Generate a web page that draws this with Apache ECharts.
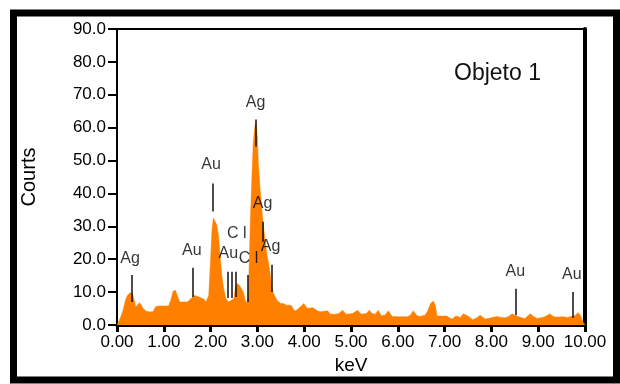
<!DOCTYPE html>
<html>
<head>
<meta charset="utf-8">
<script src="https://cdn.jsdelivr.net/npm/echarts@6/dist/echarts.min.js"></script>
<style>
  html, body { margin: 0; padding: 0; background: #fff; }
  #chart { width: 620px; height: 384px; }
</style>
</head>
<body>
<div id="chart"></div>
<script>
// EDS spectrum: energy (keV) and counts
const energyKeV = [
  0.00, 0.03, 0.08, 0.13, 0.18, 0.22, 0.28, 0.33, 0.37, 0.40, 0.44, 0.48, 0.52, 0.56, 0.62, 0.68, 0.72, 0.77, 0.82, 0.88,
  1.00, 1.10, 1.15, 1.20, 1.25, 1.30, 1.34, 1.40, 1.50, 1.58, 1.65, 1.70, 1.75, 1.80, 1.85, 1.90, 1.93,
  1.96, 2.00, 2.03, 2.06, 2.10, 2.13, 2.17, 2.21, 2.24, 2.28, 2.33, 2.38, 2.44, 2.50, 2.53, 2.57, 2.62, 2.66, 2.70, 2.74,
  2.78, 2.80, 2.82, 2.85, 2.88, 2.91, 2.94, 2.97, 3.00, 3.02, 3.06, 3.09, 3.13, 3.17, 3.21, 3.24, 3.27, 3.31, 3.34, 3.42,
  3.50, 3.56, 3.62, 3.72, 3.80, 3.88, 3.99, 4.07, 4.18, 4.28, 4.35, 4.50, 4.56, 4.67, 4.74, 4.82, 4.90, 5.03, 5.14, 5.22,
  5.27, 5.33, 5.39, 5.45, 5.52, 5.58, 5.65, 5.72, 5.80, 5.88, 6.00, 6.20, 6.27, 6.33, 6.40, 6.47, 6.58, 6.63, 6.70, 6.76,
  6.80, 6.84, 7.05, 7.10, 7.16, 7.22, 7.27, 7.33, 7.40, 7.50, 7.60, 7.70, 7.76, 7.82, 7.87, 8.00, 8.12, 8.20, 8.30, 8.37,
  8.44, 8.52, 8.57, 8.65, 8.72, 8.78, 8.83, 8.90, 8.98, 9.05, 9.10, 9.18, 9.25, 9.31, 9.36, 9.45, 9.53, 9.62, 9.74, 9.80,
  9.85, 9.90, 9.96, 10.00
];
const counts = [
  0, 0.8, 2.5, 4.5, 7.5, 9, 9.8, 9.5, 7.5, 5.5, 5.8, 6.8, 6, 5, 4.2, 4, 4.3, 4, 5.5, 5.8,
  5.8, 5.8, 7.5, 10.3, 10.5, 8.5, 7, 7, 7, 8, 9, 8.8, 8.5, 8.2, 8, 7, 7.5,
  9, 20, 29, 32.5, 32, 30.5, 27, 20, 15, 11, 8, 7, 7.5, 8, 11.5, 12.6, 12, 11, 10, 7.5,
  6.7, 8, 16, 32, 44, 55, 60, 61.5, 57, 49, 41, 36, 30, 25, 21, 18.8, 15.7, 11.5, 9.7, 7.5,
  6.5, 6.5, 6, 6, 4.2, 5, 6.5, 5, 5.3, 4.3, 4, 4.3, 3.3, 3.3, 3.5, 4.5, 3.3, 3.5, 4.5, 3.3,
  3.4, 3.5, 4.5, 3.5, 3.3, 4.5, 2.8, 3, 4.3, 2.6, 2.5, 2.5, 3, 4.3, 3, 2.6, 3, 4, 6.5, 7.3,
  6, 2.7, 2.7, 2.2, 1.8, 2.5, 2.7, 2.2, 3.4, 2.7, 1.6, 2.3, 3, 2.3, 1.8, 2.2, 2.6, 2.3, 2.2, 2.6,
  3.4, 2.8, 2.6, 2.2, 2, 2.8, 3.4, 2.6, 2, 2.2, 2.3, 2.8, 3.4, 2.7, 2.4, 2.4, 2.5, 2.3, 2.7, 3,
  3.8, 3, 0.8, 0
];

// Element identification lines: energy, top and bottom of the tick (counts)
const lineKeV    = [0.32, 1.62, 2.05, 2.37, 2.46, 2.54, 2.80, 2.97, 3.12, 3.31, 8.53, 9.74];
const lineTop    = [15.2, 17.4, 43.0, 16.2, 16.2, 16.2, 15.2, 62.5, 31.4, 18.3, 11.0, 10.0];
const lineBottom = [7.0, 8.5, 34.5, 8.2, 8.2, 8.5, 7.0, 54.3, 25.3, 10.0, 3.0, 2.1];

// Element labels: text, energy and height (counts) of the label centre
const labelText   = ['Ag', 'Au', 'Au', 'Au', 'C l', 'C l', 'Ag', 'Ag', 'Ag', 'Au', 'Au'];
const labelKeV    = [0.28, 1.60, 2.01, 2.38, 2.56, 2.81, 2.96, 3.11, 3.28, 8.51, 9.72];
const labelCounts = [20.1, 22.6, 48.8, 21.6, 27.7, 20.1, 67.7, 36.9, 23.8, 16.2, 15.2];

// Axis ticks
const xTickStep = 1;
const yTickStep = 10;

const spectrum = energyKeV.map((e, i) => [e, counts[i]]);
const idLines = lineKeV.map((e, i) => [
  { coord: [e, lineTop[i]] },
  { coord: [e, lineBottom[i]] }
]);
const idLabels = labelText.map((t, i) => ({ value: [labelKeV[i], labelCounts[i]], name: t }));

const FONT = 'Liberation Sans, Arial, sans-serif';
const TXT = '#000';

const chart = echarts.init(document.getElementById('chart'), null, { renderer: 'canvas' });
chart.setOption({
  animation: false,
  backgroundColor: '#fff',
  grid: { left: 117, right: 35, top: 29, bottom: 59, containLabel: false },
  graphic: [
    {
      type: 'rect',
      shape: { x: 13.5, y: 13, width: 603, height: 367 },
      style: { fill: 'none', stroke: '#000', lineWidth: 7 },
      z: 100
    },
    {
      type: 'text',
      left: 454, top: 62,
      style: { text: 'Objeto 1', fontSize: 23, fontFamily: FONT, fill: '#111' }
    }
  ],
  xAxis: [
    {
      type: 'value', min: 0, max: 10, interval: xTickStep,
      name: 'keV', nameLocation: 'middle', nameGap: 31,
      nameTextStyle: { fontSize: 19, fontFamily: FONT, color: TXT },
      axisLine: { show: true, onZero: false, lineStyle: { color: '#000', width: 3 } },
      axisTick: { show: true, length: 7, lineStyle: { color: '#000', width: 3 } },
      axisLabel: { fontSize: 17, fontFamily: FONT, color: TXT, margin: 9,
        formatter: v => v.toFixed(2) },
      splitLine: { show: false }
    },
    {
      type: 'value', position: 'top', min: 0, max: 10,
      axisLine: { show: true, onZero: false, lineStyle: { color: '#000', width: 2 } },
      axisTick: { show: false }, axisLabel: { show: false }, splitLine: { show: false }
    }
  ],
  yAxis: [
    {
      type: 'value', min: 0, max: 90, interval: yTickStep,
      name: 'Courts', nameLocation: 'middle', nameGap: 78, nameRotate: 90,
      nameTextStyle: { fontSize: 20, fontFamily: FONT, color: TXT },
      axisLine: { show: true, onZero: false, lineStyle: { color: '#000', width: 2 } },
      axisTick: { show: true, length: 9, lineStyle: { color: '#000', width: 2 } },
      axisLabel: { fontSize: 17, fontFamily: FONT, color: TXT, margin: 11,
        formatter: v => v.toFixed(1) },
      splitLine: { show: false }
    },
    {
      type: 'value', position: 'right', min: 0, max: 90,
      axisLine: { show: true, onZero: false, lineStyle: { color: '#000', width: 4 } },
      axisTick: { show: false }, axisLabel: { show: false }, splitLine: { show: false }
    }
  ],
  series: [
    {
      type: 'line',
      data: spectrum,
      symbol: 'none',
      lineStyle: { width: 0.5, color: '#ff8000' },
      areaStyle: { color: '#ff8000', opacity: 1 },
      markLine: {
        silent: true,
        symbol: ['none', 'none'],
        label: { show: false },
        lineStyle: { color: '#111', width: 1.5, type: 'solid' },
        data: idLines
      },
      z: 2
    },
    {
      type: 'scatter',
      data: idLabels,
      symbolSize: 0,
      label: {
        show: true, position: 'inside',
        formatter: p => p.name,
        fontSize: 16, fontFamily: FONT, color: TXT
      },
      z: 5
    }
  ]
});
</script>
</body>
</html>
